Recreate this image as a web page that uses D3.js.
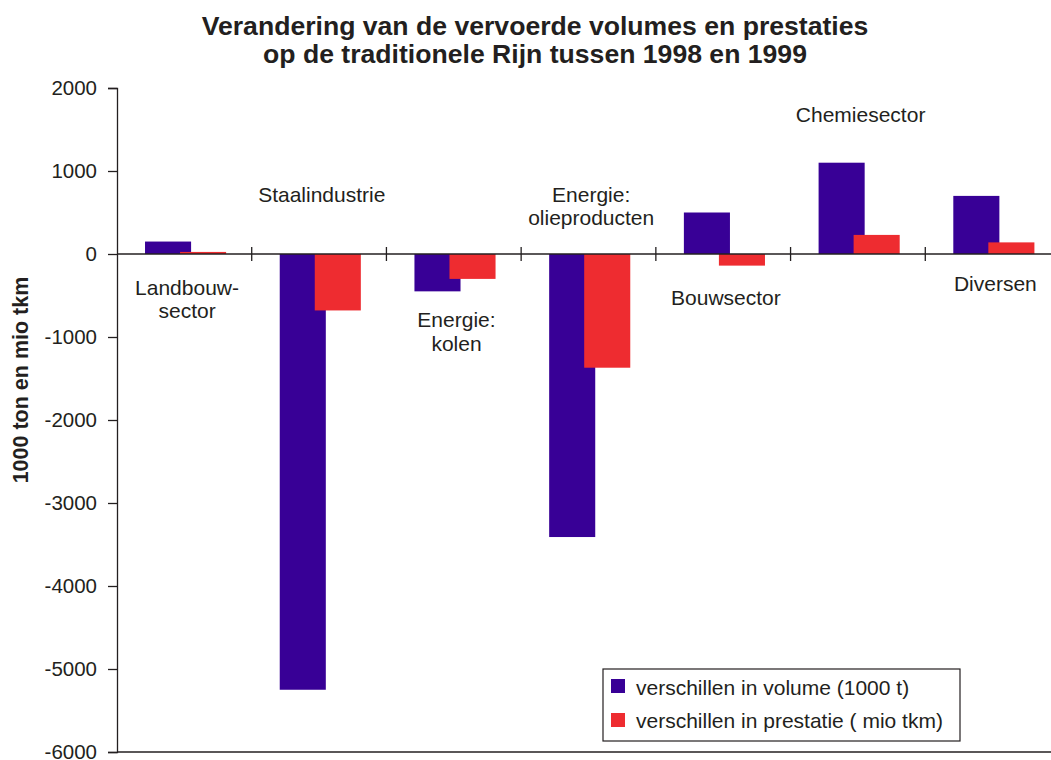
<!DOCTYPE html>
<html><head><meta charset="utf-8">
<script src="https://cdn.jsdelivr.net/npm/d3@7"></script>
<style>body{margin:0;background:#fff;} text{font-family:"Liberation Sans",Arial,sans-serif;fill:#231f20;}</style>
</head><body><svg id="c" width="1051" height="760"></svg>
<script>
const categories = ["Landbouwsector","Staalindustrie","Energie: kolen","Energie: olieproducten","Bouwsector","Chemiesector","Diversen"];
const labelLines = [["Landbouw-","sector"],["Staalindustrie"],["Energie:","kolen"],["Energie:","olieproducten"],["Bouwsector"],["Chemiesector"],["Diversen"]];
const labelValues = [-490,630,-880,630,-615,1590,-445];
const volume = [150, -5250, -450, -3410, 500, 1100, 700];
const prestatie = [25, -680, -300, -1370, -140, 230, 140];
const yTicks = [2000,1000,0,-1000,-2000,-3000,-4000,-5000,-6000];
const seriesNames = ["verschillen in volume (1000 t)","verschillen in prestatie ( mio tkm)"];
const colors = ["#380096","#ee2c30"];

const svg = d3.select("#c");
const pLeft=117, pRight=1060, pTop=88, pBottom=752;
const x = d3.scaleBand().domain(categories).range([pLeft,pRight]).paddingInner(0).paddingOuter(0);
const y = d3.scaleLinear().domain([-6000,2000]).range([pBottom,pTop]);
const bw = x.bandwidth();
const barW = bw*0.342, off = [bw*0.208, bw*0.468];

// title
svg.append("text").attr("x",535).attr("y",35).attr("text-anchor","middle").style("font-weight","bold").style("font-size","26.6px").text("Verandering van de vervoerde volumes en prestaties");
svg.append("text").attr("x",535).attr("y",63).attr("text-anchor","middle").style("font-weight","bold").style("font-size","26.6px").text("op de traditionele Rijn tussen 1998 en 1999");

// y axis
const ya = svg.append("g").attr("transform",`translate(${pLeft},0)`).call(d3.axisLeft(y).tickValues(yTicks).tickSize(9).tickPadding(11).tickFormat(d=>String(d)));
ya.select(".domain").attr("stroke","#231f20").attr("stroke-width",1.3);
ya.selectAll(".tick line").attr("stroke","#231f20").attr("stroke-width",1.3);
ya.selectAll(".tick text").style("font-size","20.5px").attr("fill","#231f20").style("font-family","'Liberation Sans',Arial,sans-serif");
svg.append("text").attr("transform",`translate(28,380) rotate(-90)`).attr("text-anchor","middle").style("font-weight","bold").style("font-size","21.5px").text("1000 ton en mio tkm");

// bottom line
svg.append("line").attr("x1",pLeft).attr("x2",pRight).attr("y1",pBottom).attr("y2",pBottom).attr("stroke","#231f20").attr("stroke-width",1.3);

// bars
const g = svg.append("g");
[volume,prestatie].forEach((vals,si)=>{
  g.selectAll(null).data(categories).enter().append("rect")
   .attr("x",(c)=>x(c)+off[si]).attr("width",barW)
   .attr("y",(c,i)=>y(Math.max(0,vals[i]))).attr("height",(c,i)=>Math.abs(y(vals[i])-y(0)))
   .attr("fill",colors[si]);
});

// zero axis with category ticks
svg.append("line").attr("x1",pLeft).attr("x2",pRight).attr("y1",y(0)).attr("y2",y(0)).attr("stroke","#231f20").attr("stroke-width",1.5);
svg.selectAll(null).data(categories.slice(1).concat(["end"])).enter().append("line")
  .attr("x1",(c,i)=>pLeft+(i+1)*bw).attr("x2",(c,i)=>pLeft+(i+1)*bw)
  .attr("y1",y(0)-7).attr("y2",y(0)+7).attr("stroke","#231f20").attr("stroke-width",1.3);

// category labels
categories.forEach((c,i)=>{
  const t = svg.append("text").attr("text-anchor","middle").style("font-size","21px");
  labelLines[i].forEach((ln,j)=>{
    t.append("tspan").attr("x",x(c)+bw*0.52).attr("y",y(labelValues[i])+j*23.5).text(ln);
  });
});

// legend
const lg = svg.append("g");
lg.append("rect").attr("x",603).attr("y",669).attr("width",357).attr("height",72).attr("fill","#fff").attr("stroke","#231f20").attr("stroke-width",1.2);
seriesNames.forEach((s,i)=>{
  lg.append("rect").attr("x",611).attr("y",679+i*34).attr("width",14).attr("height",14).attr("fill",colors[i]);
  lg.append("text").attr("x",636).attr("y",695+i*33).style("font-size","21px").text(s);
});
</script></body></html>
